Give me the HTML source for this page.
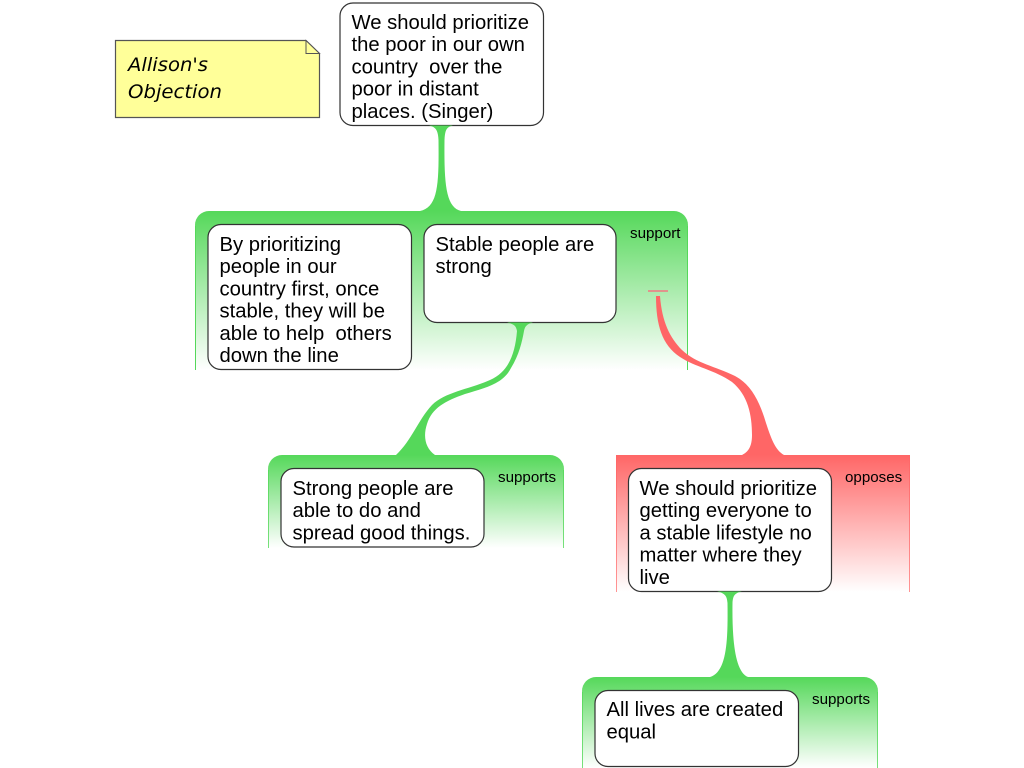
<!DOCTYPE html>
<html>
<head>
<meta charset="utf-8">
<style>
html,body{margin:0;padding:0;background:#fff;width:1024px;height:768px;overflow:hidden}
svg{display:block}
.n{font-family:"Liberation Sans",sans-serif;font-size:20.25px;fill:#000;white-space:pre}
.l{font-family:"Liberation Sans",sans-serif;font-size:15.15px;fill:#000}
.s{font-family:"Comic Sans MS","DejaVu Sans",sans-serif;font-size:19px;font-style:oblique;fill:#000}
.b{fill:#fff;stroke:#333;stroke-width:1.2}
</style>
</head>
<body>
<svg width="1024" height="768" viewBox="0 0 1024 768" xmlns="http://www.w3.org/2000/svg">
<defs>
<linearGradient id="g" x1="0" y1="0" x2="0" y2="1"><stop offset="0" stop-color="#55d85a"/><stop offset="1" stop-color="#55d85a" stop-opacity="0"/></linearGradient>
<linearGradient id="r" x1="0" y1="0" x2="0" y2="1"><stop offset="0" stop-color="#ff6666"/><stop offset="1" stop-color="#ff6666" stop-opacity="0"/></linearGradient>
</defs>

<!-- group backgrounds -->
<path d="M195 370V225a14 14 0 0 1 14-14H674a14 14 0 0 1 14 14V370Z" fill="url(#g)"/>
<path d="M195.500 370V226M687.500 370V226" stroke="#55d85a" stroke-width="1" fill="none"/>
<path d="M268 548V469a14 14 0 0 1 14-14H550a14 14 0 0 1 14 14V548Z" fill="url(#g)"/>
<path d="M268.500 548V470M563.500 548V470" stroke="#55d85a" stroke-width="1" fill="none" opacity=".8"/>
<path d="M616 592V455H910V592Z" fill="url(#r)"/>
<path d="M616.500 592V456M909.500 592V456" stroke="#ff6666" stroke-width="1" fill="none" opacity=".7"/>
<path d="M582 768V691a14 14 0 0 1 14-14H864a14 14 0 0 1 14 14V768Z" fill="url(#g)"/>
<path d="M582.500 768V692M877.500 768V692" stroke="#55d85a" stroke-width="1" fill="none" opacity=".8"/>

<!-- sticky note -->
<path d="M115.500 40.500H306L319.500 53.500V117.500H115.500Z" fill="#ffff99" stroke="#555" stroke-width="1.2"/>
<path d="M306 40.500V53.500H319.500Z" fill="#ffff99" stroke="#555" stroke-width="1"/>
<text class="s" x="128" y="71" textLength="80" lengthAdjust="spacingAndGlyphs">Allison's</text>
<text class="s" x="128" y="98" textLength="94" lengthAdjust="spacingAndGlyphs">Objection</text>

<!-- nodes -->
<rect class="b" x="340" y="3" width="203.500" height="122.500" rx="13"/>
<text class="n" xml:space="preserve"><tspan x="351.500" y="29">We should prioritize</tspan><tspan x="351.500" y="51">the poor in our own</tspan><tspan x="351.500" y="73.500">country  over the</tspan><tspan x="351.500" y="95.500">poor in distant</tspan><tspan x="351.500" y="118">places. (Singer)</tspan></text>

<rect class="b" x="208" y="224.500" width="203.500" height="145" rx="13"/>
<text class="n" xml:space="preserve"><tspan x="219.500" y="251">By prioritizing</tspan><tspan x="219.500" y="273">people in our</tspan><tspan x="219.500" y="295.500">country first, once</tspan><tspan x="219.500" y="317.500">stable, they will be</tspan><tspan x="219.500" y="340">able to help  others</tspan><tspan x="219.500" y="362">down the line</tspan></text>

<rect class="b" x="424" y="224.500" width="192" height="98" rx="13"/>
<text class="n"><tspan x="435.500" y="251">Stable people are</tspan><tspan x="435.500" y="273">strong</tspan></text>

<rect class="b" x="281" y="468.500" width="203" height="78.500" rx="13"/>
<text class="n"><tspan x="292.500" y="495">Strong people are</tspan><tspan x="292.500" y="517">able to do and</tspan><tspan x="292.500" y="539.500">spread good things.</tspan></text>

<rect class="b" x="628.500" y="468.500" width="203" height="123" rx="13"/>
<text class="n"><tspan x="639.500" y="495">We should prioritize</tspan><tspan x="639.500" y="517">getting everyone to</tspan><tspan x="639.500" y="539.500">a stable lifestyle no</tspan><tspan x="639.500" y="561.500">matter where they</tspan><tspan x="639.500" y="584">live</tspan></text>

<rect class="b" x="595" y="690.500" width="203.500" height="76" rx="13"/>
<text class="n"><tspan x="606.500" y="716">All lives are created</tspan><tspan x="606.500" y="738.500">equal</tspan></text>

<!-- labels -->
<text class="l" x="630" y="238">support</text>
<text class="l" x="498" y="482">supports</text>
<text class="l" x="845" y="482">opposes</text>
<text class="l" x="812" y="704">supports</text>

<!-- connectors -->
<path d="M429 125.500C435 127 438 129 438.500 140C439 185 438 207 420 211L461 211C446 207 444 185 444.500 140C445 129 447 127 453 125.500Z" fill="#55d85a"/>
<path d="M507 322.500C513 324 516 325 517 331C515 355 508 372 490 380C470 389 445 392 432 405C418 420 412 440 396 455L435 455C425 448 423 436 427 424C432 408 445 401 465 394C485 388 503 384 511 368C519 355 522 342 524 331C525 326 527 324 533 322.500Z" fill="#55d85a"/>
<path d="M656 296C656 325 662 345 680 357C695 367 715 370 732 382C748 395 752 415 752 435C752 447 748 452 742 455L784 455C775 450 771 438 766 423C760 403 752 385 735 376C715 366 697 364 682 350C670 338 662 322 660 296Z" fill="#ff6666"/>
<path d="M717 591.500C724 593 727 595 727.500 603C728 640 727 672 710 677L748 677C735 672 732 640 732.500 603C733 595 735 593 742 591.500Z" fill="#55d85a"/>
<path d="M648 291H668" stroke="#e0948c" stroke-width="2" fill="none"/>
</svg>
</body>
</html>
